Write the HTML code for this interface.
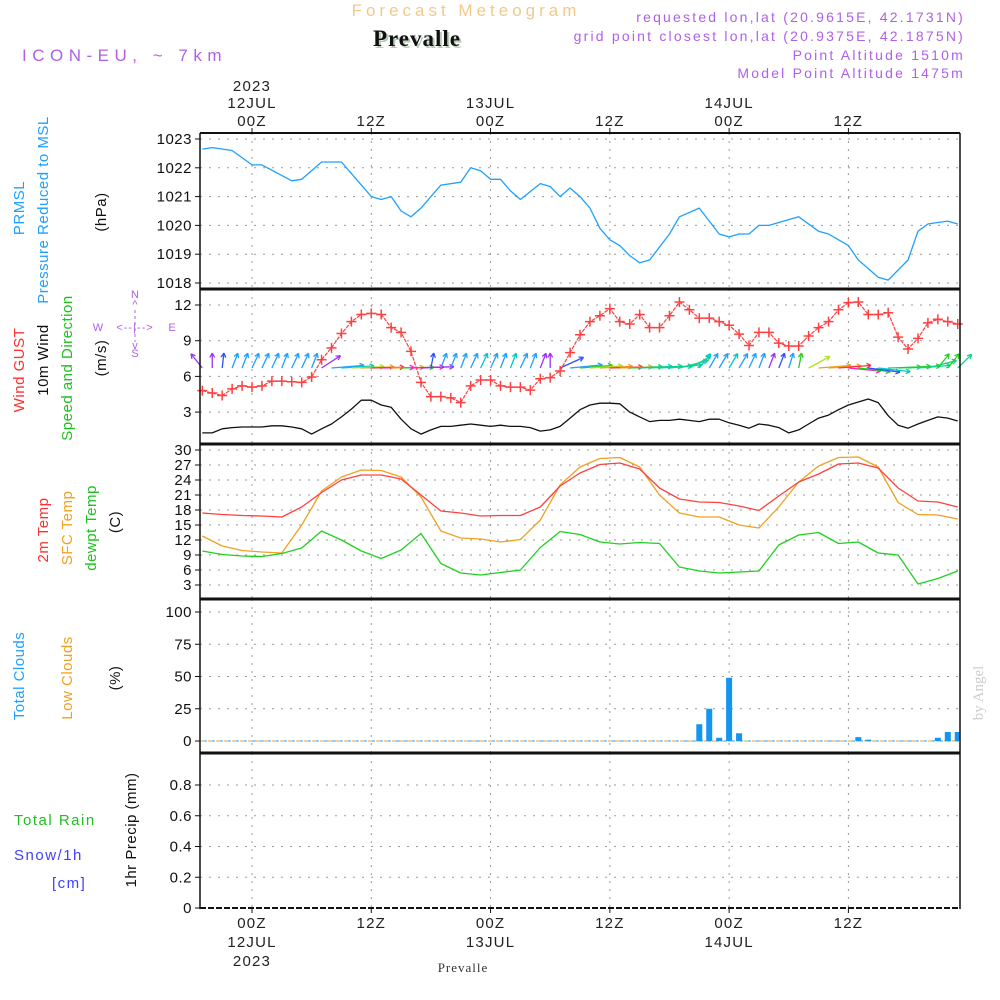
<!DOCTYPE html>
<html><head><meta charset="utf-8"><title>Meteogram Prevalle</title>
<style>
html,body{margin:0;padding:0;background:#fff;}
svg{display:block;font-family:"Liberation Sans",sans-serif;}
.t{font-size:15px;letter-spacing:1.2px;fill:#222;}
.tk{font-size:15px;letter-spacing:0.5px;fill:#111;text-anchor:end;}
</style></head>
<body>
<svg id="chart" width="1000" height="1000" viewBox="0 0 1000 1000" xmlns="http://www.w3.org/2000/svg">
<text x="466" y="16" text-anchor="middle" style="font-size:17px;letter-spacing:4px;fill:#f2c98a">Forecast Meteogram</text>
<text x="419" y="48" text-anchor="middle" style="font-family:'Liberation Serif',serif;font-weight:bold;font-size:23px;letter-spacing:1px;fill:#b8ccb8">Prevalle</text>
<text x="417" y="46" text-anchor="middle" style="font-family:'Liberation Serif',serif;font-weight:bold;font-size:23px;letter-spacing:1px;fill:#111">Prevalle</text>
<text x="22" y="61" style="font-size:17px;letter-spacing:5.5px;fill:#b060e8">ICON-EU, ~ 7km</text>
<g style="font-size:14px;letter-spacing:2.2px;fill:#b060e8" text-anchor="end">
<text x="965" y="22">requested lon,lat (20.9615E, 42.1731N)</text>
<text x="965" y="41">grid point closest lon,lat (20.9375E, 42.1875N)</text>
<text x="965" y="60">Point Altitude 1510m</text>
<text x="965" y="78">Model Point Altitude 1475m</text>
</g>
<g style="font-size:15px;letter-spacing:0.5px">
<text transform="translate(24,208) rotate(-90)" text-anchor="middle" fill="#1ea0ff">PRMSL</text>
<text transform="translate(48,210) rotate(-90)" text-anchor="middle" fill="#1ea0ff">Pressure Reduced to MSL</text>
<text transform="translate(106,212) rotate(-90)" text-anchor="middle" fill="#111">(hPa)</text>
<text transform="translate(24,370) rotate(-90)" text-anchor="middle"><tspan fill="#ff3030">Wind </tspan><tspan fill="#ff3030">GUST</tspan></text>
<text transform="translate(48,360) rotate(-90)" text-anchor="middle" fill="#111">10m Wind</text>
<text transform="translate(72,368) rotate(-90)" text-anchor="middle" fill="#20c020">Speed and Direction</text>
<text transform="translate(106,358) rotate(-90)" text-anchor="middle" fill="#111">(m/s)</text>
<text transform="translate(48,530) rotate(-90)" text-anchor="middle" fill="#ff3030">2m Temp</text>
<text transform="translate(72,528) rotate(-90)" text-anchor="middle" fill="#f0a020">SFC Temp</text>
<text transform="translate(96,528) rotate(-90)" text-anchor="middle" fill="#20c020">dewpt Temp</text>
<text transform="translate(120,522) rotate(-90)" text-anchor="middle" fill="#111">(C)</text>
<text transform="translate(24,676) rotate(-90)" text-anchor="middle" fill="#1ea0ff">Total Clouds</text>
<text transform="translate(72,678) rotate(-90)" text-anchor="middle" fill="#f0a020">Low Clouds</text>
<text transform="translate(120,678) rotate(-90)" text-anchor="middle" fill="#111">(%)</text>
<text x="14" y="825" fill="#20c020" style="letter-spacing:1.5px">Total  Rain</text>
<text x="14" y="860" fill="#4040ff" style="letter-spacing:1.5px">Snow/1h</text>
<text x="52" y="888" fill="#4040ff" style="letter-spacing:1.5px">[cm]</text>
<text transform="translate(136,830) rotate(-90)" text-anchor="middle" fill="#111">1hr Precip (mm)</text>
</g>
<g style="font-size:11px;fill:#b060e8" text-anchor="middle">
<text x="135" y="298">N</text>
<text x="135" y="308">^</text>
<text x="135" y="357">S</text>
<text x="135" y="349">v</text>
<text x="98" y="331">W</text>
<text x="172" y="331">E</text>
<text x="135" y="331" style="letter-spacing:1px">&lt;--|--&gt;</text>
<line x1="135" y1="310" x2="135" y2="342" stroke="#b060e8" stroke-dasharray="3,3"/>
</g>
<text transform="translate(983,693) rotate(-90)" text-anchor="middle" style="font-family:'Liberation Serif',serif;font-size:15px;fill:#ccc">by Angel</text>
<g id="plot"></g>
</svg>
<script>
// ---- data ----
const pHours=[-5,-4,-2,0,1,4,5,7,9,10,12,13,14,15,16,17,19,21,22,23,24,25,26,27,29,30,31,32,33,34,35,36,37,38,39,40,42,43,45,47,48,49,50,51,52,55,57,58,59,60,61,62,63,64,66,67,68,69,70,71];
const pressure=[1022.65,1022.7,1022.6,1022.1,1022.1,1021.55,1021.6,1022.2,1022.2,1021.8,1021.0,1020.9,1021.0,1020.5,1020.3,1020.6,1021.4,1021.5,1022.0,1021.9,1021.6,1021.6,1021.2,1020.9,1021.45,1021.35,1021.0,1021.3,1021.0,1020.6,1019.9,1019.5,1019.3,1018.95,1018.7,1018.8,1019.7,1020.3,1020.6,1019.7,1019.6,1019.7,1019.7,1020.0,1020.0,1020.3,1019.8,1019.7,1019.5,1019.3,1018.8,1018.5,1018.2,1018.1,1018.8,1019.8,1020.05,1020.1,1020.15,1020.05];
const windHours=[];for(let h=-5;h<=71;h++)windHours.push(h);
const gust=[4.8,4.6,4.4,4.95,5.2,5.1,5.2,5.6,5.6,5.55,5.5,5.95,7.4,8.4,9.6,10.6,11.2,11.3,11.2,10.1,9.7,8.1,5.5,4.3,4.3,4.2,3.8,5.2,5.7,5.7,5.2,5.1,5.1,4.85,5.8,5.9,6.45,8.0,9.5,10.6,11.1,11.7,10.6,10.4,11.2,10.1,10.1,11.1,12.25,11.6,10.9,10.9,10.6,10.3,9.55,8.6,9.7,9.7,8.8,8.55,8.55,9.4,10.1,10.6,11.6,12.2,12.25,11.2,11.2,11.35,9.3,8.3,9.2,10.5,10.8,10.6,10.4];
const wind=[1.25,1.25,1.6,1.7,1.75,1.75,1.75,1.85,1.85,1.75,1.6,1.15,1.6,2.0,2.6,3.25,4.0,4.0,3.6,3.4,2.4,1.6,1.15,1.5,1.8,1.8,1.9,2.0,1.9,1.8,1.9,1.8,1.8,1.7,1.4,1.5,1.8,2.5,3.2,3.6,3.75,3.75,3.7,3.0,2.6,2.2,2.3,2.3,2.4,2.3,2.2,2.4,2.4,2.1,1.9,1.65,2.0,1.9,1.7,1.25,1.5,2.0,2.5,2.75,3.2,3.6,3.85,4.1,3.8,2.7,1.9,1.65,2.0,2.3,2.6,2.5,2.25];
const windDir=[-20,0,3,10,10,12,12,12,10,12,12,10,35,80,82,85,86,87,88,88,87,86,85,5,10,10,10,12,12,12,10,10,12,10,10,0,45,78,80,82,84,86,86,85,84,83,82,78,60,40,20,15,15,15,15,12,10,10,10,8,5,40,80,82,80,102,104,106,104,86,84,82,80,60,20,20,25];
const windCol=['#9b30ff','#9b30ff','#3050ff','#1ea0ff','#1ea0ff','#1ea0ff','#1ea0ff','#1ea0ff','#1ea0ff','#1ea0ff','#1ea0ff','#1ea0ff','#9b30ff','#1ea0ff','#00c8c8','#b0e020','#f0a020','#ff3040','#ff20c0','#f0a020','#20d020','#ff20c0','#9b30ff','#3050ff','#1ea0ff','#1ea0ff','#1ea0ff','#1ea0ff','#00c8c8','#1ea0ff','#1ea0ff','#00c8c8','#1ea0ff','#1ea0ff','#9b30ff','#9b30ff','#3050ff','#1ea0ff','#20d020','#b0e020','#f0a020','#ff3040','#f0a020','#20d020','#00c8c8','#10d090','#10d090','#10d090','#10d090','#10d090','#00c8c8','#1ea0ff','#1ea0ff','#00c8c8','#1ea0ff','#1ea0ff','#1ea0ff','#9b30ff','#3050ff','#1ea0ff','#20d020','#b0e020','#f0a020','#f0a020','#ff3040','#ff20c0','#20d020','#3050ff','#00c8c8','#10d090','#20d020','#20d020','#10d090','#10d090','#20d020','#20d020','#10d090'];
const tHours=[-5,-3,-1,1,3,5,7,9,11,13,15,17,19,21,23,25,27,29,31,33,35,37,39,41,43,45,47,49,51,53,55,57,59,61,63,65,67,69,71];
const temp2m=[17.4,17.1,16.9,16.8,16.6,18.6,21.5,24.0,25.0,25.0,24.2,21.0,17.8,17.4,16.8,16.9,16.9,18.6,22.8,25.4,27.1,27.4,26.2,22.4,20.2,19.6,19.5,18.8,17.9,20.8,23.6,25.2,27.2,27.4,26.4,22.4,19.8,19.6,18.6];
const tempSfc=[12.8,10.8,9.9,9.6,9.4,15.0,21.8,24.6,26.0,25.9,24.6,20.6,13.8,12.4,12.2,11.6,12.1,16.0,23.0,26.6,28.3,28.5,26.6,21.0,17.4,16.6,16.6,15.0,14.4,18.6,23.6,26.8,28.5,28.6,26.6,19.5,17.1,17.0,16.2];
const dewpt=[9.8,9.1,8.8,8.7,9.3,10.4,13.8,12.0,9.8,8.3,10.0,13.3,7.3,5.4,5.0,5.5,6.0,10.5,13.7,13.1,11.6,11.2,11.5,11.3,6.6,5.8,5.4,5.6,5.8,11.0,13.0,13.5,11.3,11.6,9.4,9.0,3.2,4.3,5.8];
const cloudHours=[45,46,47,48,49,61,62,69,70,71];
const totalClouds=[13,25,2.5,49,6,3,1,2.5,7,7];
const lowClouds=[0,0,0,0,0,0,0,0,0,0];
const precipHours=[45,46,47,48,49];
const precip=[0,0,0,0,0];
const pTicks=[1018,1019,1020,1021,1022,1023];
const wTicks=[3,6,9,12];
const tTicks=[3,6,9,12,15,18,21,24,27,30];
const cTicks=[0,25,50,75,100];
const rTicks=[0,0.2,0.4,0.6,0.8];
const timeTicks=[0,12,24,36,48,60];
const timeLabels=['00Z','12Z','00Z','12Z','00Z','12Z'];
const dayLabels=['12JUL','','13JUL','','14JUL',''];

// ---- scales ----
const X=h=>252+h*9.94;
const yP=p=>139+(1023-p)*28.8;
const yW=v=>305+(12-v)*11.9;
const yT=t=>450+(30-t)*5;
const yC=c=>741-c*1.29;
const yR=r=>908-r*153.75;
const L=200,R=960;
const NS='http://www.w3.org/2000/svg';
const plot=document.getElementById('plot');
function el(tag,attrs,parent){const e=document.createElementNS(NS,tag);for(const k in attrs)e.setAttribute(k,attrs[k]);(parent||plot).appendChild(e);return e;}
function txt(x,y,s,cls,parent){const e=el('text',{x:x,y:y,class:cls},parent);e.textContent=s;return e;}
function line(pts,color,w,parent){return el('polyline',{points:pts.map(p=>p[0].toFixed(1)+','+p[1].toFixed(1)).join(' '),fill:'none',stroke:color,'stroke-width':w,'stroke-linejoin':'round'},parent);}

const panels=[
 {name:'pressure-panel',top:133,bot:289,ticks:pTicks,y:yP},
 {name:'wind-panel',top:289,bot:444,ticks:wTicks,y:yW},
 {name:'temperature-panel',top:444,bot:599,ticks:tTicks,y:yT},
 {name:'clouds-panel',top:599,bot:753,ticks:cTicks,y:yC},
 {name:'precip-panel',top:753,bot:908,ticks:rTicks,y:yR}
];
panels.forEach(pn=>{
 const g=el('g',{});
 
 
 pn.ticks.forEach(v=>{
  const y=pn.y(v);
  if(y>pn.top+3&&y<pn.bot-3) el('line',{x1:L,x2:R,y1:y,y2:y,stroke:'#999','stroke-dasharray':'2,7'},g);
  el('line',{x1:L-5,x2:L,y1:y,y2:y,stroke:'#111'},g);
  const lab=txt(L-8,y+5,String(v),'tk',g);
  
  
 });
 timeTicks.forEach(h=>{el('line',{x1:X(h),x2:X(h),y1:pn.top,y2:pn.bot,stroke:'#999','stroke-dasharray':'2,6'},g);});
 pn.g=g;
});

// pressure
const pg=panels[0].g;
const pl=line(pHours.map((h,i)=>[X(h),yP(pressure[i])]),'#1ea0ff',1.3,pg);



// wind
const wg=panels[1].g;
const bl=line(windHours.map((h,i)=>[X(h),yW(wind[i])]),'#111',1.3,wg);


windHours.forEach((h,i)=>{
 const a=windDir[i]*Math.PI/180;
 const x0=X(h),y0=368;
 const x1=x0+Math.sin(a)*15*2.2,y1=y0-Math.cos(a)*15;
 const ag=el('g',{stroke:windCol[i],'stroke-width':1.3,fill:'none'},wg);
 
 
 el('line',{x1:x0,y1:y0,x2:x1,y2:y1},ag);
 const ang=Math.atan2(y1-y0,x1-x0);
 [0.5,-0.5].forEach(d=>{el('line',{x1:x1,y1:y1,x2:x1-5*Math.cos(ang+d),y2:y1-5*Math.sin(ang+d)},ag);});
});
const gl=line(windHours.map((h,i)=>[X(h),yW(gust[i])]),'#ff4040',1.2,wg);
gl.setAttribute('stroke-dasharray','4,1');


windHours.forEach((h,i)=>{
 const x=X(h),y=yW(gust[i]);
 const m=el('path',{d:`M${x-5},${y}H${x+5}M${x},${y-5}V${y+5}`,stroke:'#ff4040','stroke-width':1.5},wg);
 
 
});

// temperature
const tg=panels[2].g;
const sl=line(tHours.map((h,i)=>[X(h),yT(tempSfc[i])]),'#f0a020',1.3,tg);


const rl=line(tHours.map((h,i)=>[X(h),yT(temp2m[i])]),'#ff4040',1.3,tg);


const dl=line(tHours.map((h,i)=>[X(h),yT(dewpt[i])]),'#20d020',1.3,tg);



// clouds
const cg=panels[3].g;
el('line',{x1:L,x2:R,y1:yC(0),y2:yC(0),stroke:'#f0a020','stroke-dasharray':'5,3'},cg);
el('line',{x1:L+4,x2:R,y1:yC(0),y2:yC(0),stroke:'#1ea0ff','stroke-dasharray':'3,5'},cg);
cloudHours.forEach((h,i)=>{
 const y=yC(totalClouds[i]);
 const b=el('rect',{x:X(h)-3,y:y,width:Math.min(6,R-(X(h)-3)),height:yC(0)-y,fill:'#1496f0'},cg);
 
 
 const y2=yC(lowClouds[i]);
 const lb=el('rect',{x:X(h)-3,y:y2,width:6,height:yC(0)-y2,fill:'#f0a020'},cg);
 
 
});

// precip
const rg=panels[4].g;
precipHours.forEach((h,i)=>{
 const y=yR(precip[i]);
 const b=el('rect',{x:X(h)-3,y:y,width:6,height:yR(0)-y,fill:'#20c020'},rg);
 
 
});

// frames
const fg=el('g',{});


el('line',{x1:L,x2:R,y1:133,y2:133,stroke:'#111','stroke-width':2},fg);
[289,444,599,753].forEach(y=>el('line',{x1:L,x2:R,y1:y,y2:y,stroke:'#111','stroke-width':3},fg));
el('line',{x1:L,x2:R,y1:908,y2:908,stroke:'#111','stroke-width':2,'stroke-dasharray':'6,2'},fg);
el('line',{x1:L,x2:L,y1:133,y2:909,stroke:'#111','stroke-width':1.5},fg);
el('line',{x1:R,x2:R,y1:133,y2:909,stroke:'#111','stroke-width':1.5},fg);

// time axes
const ta=el('g',{});


timeTicks.forEach((h,i)=>{
 const x=X(h);
 el('line',{x1:x,x2:x,y1:128,y2:133,stroke:'#111'},ta);
 el('line',{x1:x,x2:x,y1:908,y2:913,stroke:'#111'},ta);
 const a=txt(x,126,timeLabels[i],'t',ta);a.setAttribute('text-anchor','middle');
 const b=txt(x,928,timeLabels[i],'t',ta);b.setAttribute('text-anchor','middle');
 if(dayLabels[i]){
  const c=txt(x,108,dayLabels[i],'t',ta);c.setAttribute('text-anchor','middle');
  const d=txt(x,947,dayLabels[i],'t',ta);d.setAttribute('text-anchor','middle');
 }
});
const y1=txt(X(0),91,'2023','t',ta);y1.setAttribute('text-anchor','middle');
const y2=txt(X(0),966,'2023','t',ta);y2.setAttribute('text-anchor','middle');
const pv=txt(463,972,'Prevalle','',ta);
pv.setAttribute('text-anchor','middle');
pv.setAttribute('style','font-family:"Liberation Serif",serif;font-size:13px;letter-spacing:1px;fill:#333');


</script>
</body></html>
